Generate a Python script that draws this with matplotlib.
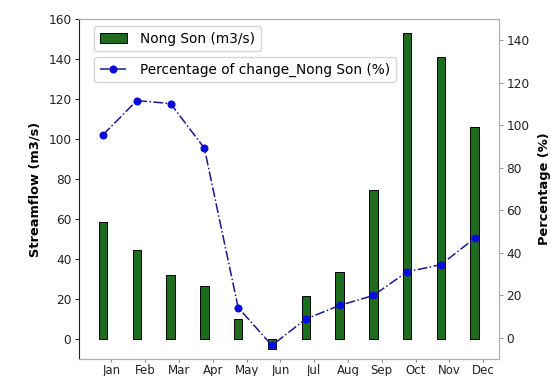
import numpy as np
import matplotlib
matplotlib.use("Agg")
import matplotlib.pyplot as plt

months = ["Jan", "Feb", "Mar", "Apr", "May", "Jun",
          "Jul", "Aug", "Sep", "Oct", "Nov", "Dec"]
streamflow = [58.3, 44.4, 31.9, 26.4, 9.8, -5.0,
              21.6, 33.4, 74.4, 153.2, 140.9, 106.2]
pct_change = [95.5, 111.6, 110.2, 89.2, 14.2, -3.6,
              8.8, 15.2, 19.9, 31.0, 34.4, 46.8]

x = np.arange(len(months))
bar_w = 0.25

fig = plt.figure(figsize=(5.51, 3.76), dpi=100)
ax1 = fig.add_axes([0.1434, 0.0452, 0.7622, 0.9043])
ax2 = ax1.twinx()

bars = ax1.bar(x, streamflow, width=bar_w, color="#1c6e1c",
               edgecolor="black", linewidth=0.7, label="Nong Son (m3/s)")
line, = ax2.plot(x, pct_change, linestyle="-.", color="#1a1a8c",
                 linewidth=1.1, marker="o", markersize=4.8,
                 markerfacecolor="#0b0bdc", markeredgecolor="#0b0bdc",
                 label="Percentage of change_Nong Son (%)")

ax1.set_xlim(-0.71, 11.72)
ax1.set_ylim(-10, 160)
ax2.set_ylim(-10, 150)
ax1.set_yticks(np.arange(0, 161, 20))
ax2.set_yticks(np.arange(0, 141, 20))
ax1.set_xticks(x + bar_w)
ax1.set_xticklabels(months)

tick_fs = 8.7
ax1.tick_params(axis="y", labelsize=tick_fs, length=3, width=0.8, pad=2.5,
                colors="#222222")
ax1.tick_params(axis="x", labelsize=8.5, length=2.5, width=0.8, pad=0.8,
                color="#888888", labelcolor="#222222")
ax2.tick_params(axis="y", labelsize=tick_fs, length=3, width=0.8, pad=2.5,
                color="#999999", labelcolor="#222222")

for ax in (ax1, ax2):
    for side in ("top", "right", "bottom"):
        ax.spines[side].set_color("#b0b0b0")
ax2.spines["left"].set_visible(False)
ax1.spines["left"].set_color("#222222")

ax1.set_ylabel("Streamflow (m3/s)", fontsize=9.4, fontweight="bold",
               labelpad=5)
ax2.set_ylabel("Percentage (%)", fontsize=9.4, fontweight="bold",
               labelpad=6)

# Two separate legend boxes, stacked in the upper-left corner
leg1 = ax2.legend(handles=[bars], labels=[bars.get_label()],
                  loc="upper left", fontsize=9.8, handletextpad=1.0,
                  bbox_to_anchor=(0.036, 0.979), borderaxespad=0)
ax2.add_artist(leg1)
leg2 = ax2.legend(handles=[line], labels=[line.get_label()],
                  loc="upper left", fontsize=9.8, handletextpad=1.0,
                  bbox_to_anchor=(0.036, 0.888), borderaxespad=0)

fig.savefig("out.png", dpi=100)
